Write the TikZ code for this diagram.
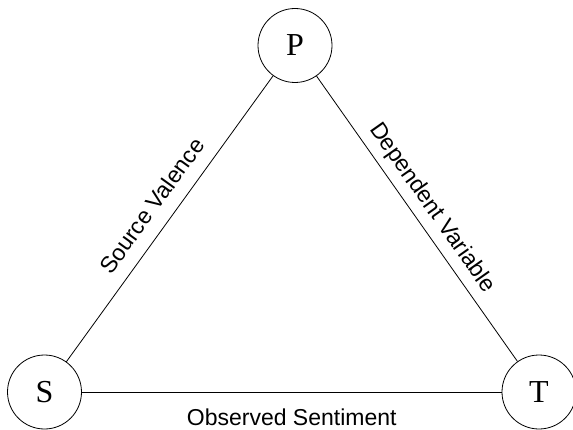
\documentclass[tikz,border=0pt]{standalone}
\usepackage{fontspec}
\setmainfont{Liberation Sans}
\newfontfamily\figserif{Liberation Serif}
\begin{document}
\begin{tikzpicture}[x=1pt,y=1pt,line width=0.8pt,
  vtx/.style={draw,circle,minimum size=74pt,inner sep=0pt,font=\figserif\fontsize{32}{32}\selectfont},
  lbl/.style={font=\fontsize{23}{27}\selectfont}]
\useasboundingbox (0,0) rectangle (573,429);
\node[vtx] (P) at (295,383.5) {P};
\node[vtx] (S) at (44.5,37) {S};
\node[vtx] (T) at (539,37) {T};
\draw (S)--(P) node[midway,sloped,above=10pt,lbl]{Source Valence};
\draw (P)--(T) node[midway,sloped,above=4pt,lbl]{Dependent Variable};
\draw (S)--(T) node[midway,below=13pt,lbl]{Observed Sentiment};
\end{tikzpicture}
\end{document}
